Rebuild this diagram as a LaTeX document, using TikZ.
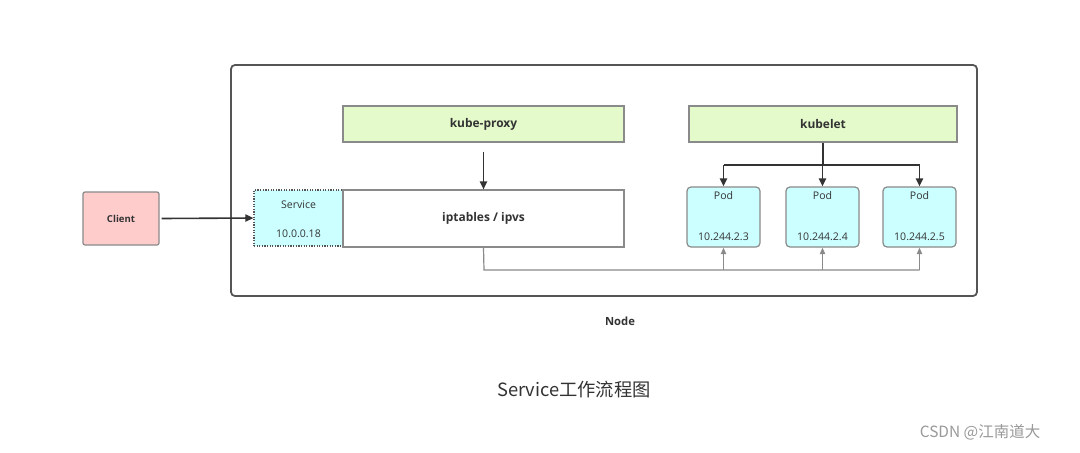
\documentclass[tikz,border=0pt]{standalone}
\usepackage{fontspec}
\setmainfont{Open Sans}
\newfontfamily\cjk{Noto Sans CJK SC}
\usetikzlibrary{arrows.meta}
\definecolor{frame}{HTML}{555555}
\definecolor{bord}{HTML}{8A8A8A}
\definecolor{greenfill}{HTML}{E4FACB}
\definecolor{cyanfill}{HTML}{CCFFFF}
\definecolor{pinkfill}{HTML}{FFCCCC}
\definecolor{txt}{HTML}{333333}
\tikzset{
  box/.style={draw=bord, line width=0.3mm, inner sep=0pt, text=txt},
  lbl/.style={font=\fontsize{8.5}{10}\selectfont\bfseries, text=txt},
  small/.style={font=\fontsize{7.5}{9}\selectfont, text=txt},
  thick arrow/.style={draw=txt, line width=0.45mm, -{Triangle[length=2mm,width=1.8mm]}},
  thin arrow/.style={draw=bord, line width=0.3mm, -{Triangle[length=1.6mm,width=1.3mm]}},
}
\begin{document}
\begin{tikzpicture}[x=0.25mm,y=-0.25mm]
\useasboundingbox[fill=white] (0,0) rectangle (1080,452);
% outer frame
\draw[frame, line width=0.45mm, rounded corners=1mm] (231,65) rectangle (977,296);
\node[lbl, font=\fontsize{8}{10}\selectfont\bfseries] (nodelbl) at (620,321) {Node};
% kube-proxy
\node[box, fill=greenfill, minimum width=281*0.25mm, minimum height=36*0.25mm, lbl] (kp) at (483.5,124) {kube-proxy};
\node[box, fill=greenfill, minimum width=268*0.25mm, minimum height=36*0.25mm, lbl] (kl) at (823,124) {kubelet};
% iptables
\node[box, fill=white, minimum width=281*0.25mm, minimum height=57*0.25mm, lbl] (ipt) at (483.5,218.5) {iptables / ipvs};
% service
\node[draw=frame, densely dotted, line width=0.3mm, fill=cyanfill, minimum width=89*0.25mm, minimum height=56*0.25mm, inner sep=0pt] (svc) at (298.5,218) {};
\draw[bord, line width=0.3mm] (343,190) -- (343,247);
\node[small] (svct) at (298.5,205) {Service};
\node[small] (svcip) at (298.5,234) {10.0.0.18};
% client
\node[box, fill=pinkfill, rounded corners=0.5mm, minimum width=76*0.25mm, minimum height=53*0.25mm, font=\fontsize{6.8}{8}\selectfont\bfseries] (cl) at (121,218.5) {Client};
\draw[thick arrow, line width=0.4mm] (cl.east) ++(2,0) coordinate (c0) -- (svc.west);
\draw[thick arrow, line width=0.4mm] (kp.south) ++(0,9) coordinate (k0) -- (ipt.north);
% pods
\foreach \n/\x/\ip in {p1/723.5/10.244.2.3, p2/822.5/10.244.2.4, p3/919.5/10.244.2.5}{
  \node[box, fill=cyanfill, rounded corners=1mm, minimum width=73*0.25mm, minimum height=60*0.25mm] (\n) at (\x,217) {};
  \node[small] at (\x,196) {Pod};
  \node[small] at (\x,237) {\ip};
}
% kubelet fan-out
\coordinate (kb) at (822.5,165);
\draw[txt, line width=0.5mm] (kl.south -| kb) -- (kb);
\draw[txt, line width=0.5mm] (p1.north |- kb) -- (p3.north |- kb);
\foreach \n in {p1,p2,p3}{
  \draw[thick arrow] (\n.north |- kb) -- (\n.north);
}
% bottom routing
\coordinate (bb) at (484,270);
\draw[bord, line width=0.3mm] (ipt.south) -- (bb) -- (p3.south |- bb);
\foreach \n in {p1,p2,p3}{
  \draw[thin arrow] (\n.south |- bb) -- (\n.south);
}
% title
\node[font=\cjk\fontsize{13}{16}\selectfont, text=txt] (title) at (574,390) {Service工作流程图};
\node[font=\cjk\fontsize{11}{13}\selectfont, text=black!40] (wm) at (980,432) {CSDN @江南道大};
\end{tikzpicture}
\end{document}
